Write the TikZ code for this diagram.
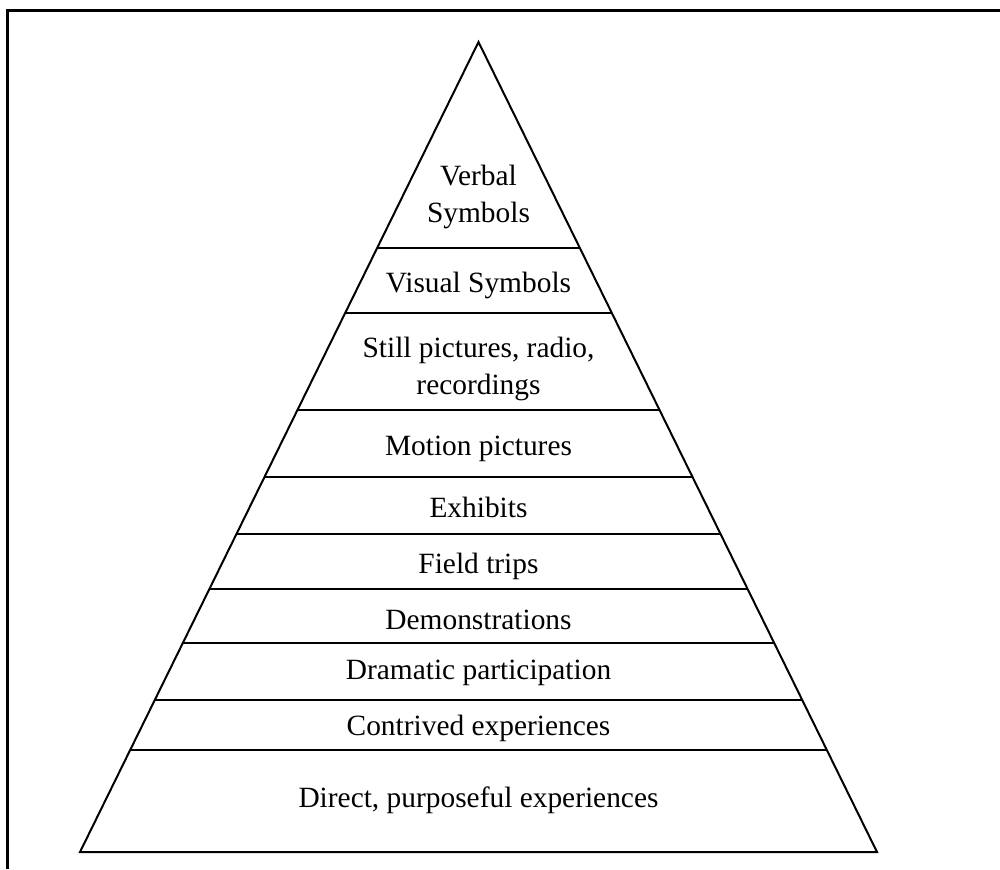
\documentclass[tikz,border=0pt]{standalone}
\usepackage{fontspec}
\setmainfont{Liberation Serif}
\usetikzlibrary{calc}

\begin{document}
\begin{tikzpicture}[
    x=0.5pt, y=-0.5pt,
    edge/.style={line width=1pt, line join=miter},
    frame/.style={line width=1.5pt},
    level/.style={font=\fontsize{14.7}{18.7}\selectfont, align=center, inner sep=0pt}
]
    \useasboundingbox (0,0) rectangle (1000,869);
    \draw[frame] (7,869) -- (7,10) -- (1000,10);

    \coordinate (apex) at (478.5,42);
    \coordinate (left) at (80,852);
    \coordinate (right) at (877,852);
    \draw[edge] (apex) -- (left) -- (right) -- cycle;
    \foreach \y in {248,313,410,477,534,589,643,700,750}
        \draw[edge] ($(apex)!{(\y-42)/810}!(left)$) -- ($(apex)!{(\y-42)/810}!(right)$);

    \node[level] (verbal) at (478.5,197) {Verbal\\Symbols};
    \node[level] (visual) at (478.5,285) {Visual Symbols};
    \node[level] (still) at (478.5,369) {Still pictures, radio,\\recordings};
    \node[level] (motion) at (478.5,449) {Motion pictures};
    \node[level] (exhibits) at (478.5,507) {Exhibits};
    \node[level] (trips) at (478.5,566) {Field trips};
    \node[level] (demos) at (478.5,620) {Demonstrations};
    \node[level] (dramatic) at (478.5,673) {Dramatic participation};
    \node[level] (contrived) at (478.5,728) {Contrived experiences};
    \node[level] (direct) at (478.5,800) {Direct, purposeful experiences};
\end{tikzpicture}
\end{document}
